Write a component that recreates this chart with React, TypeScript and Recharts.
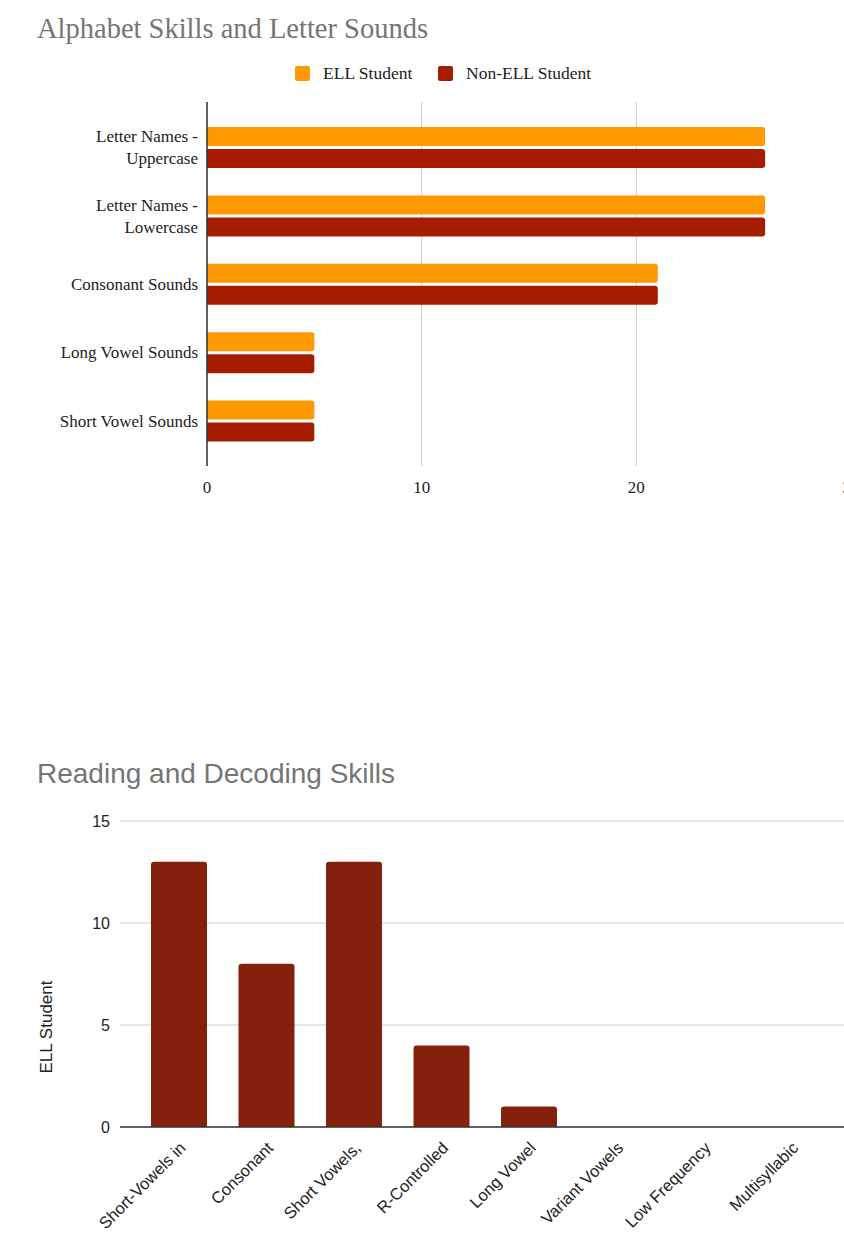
import React from 'react';
import { BarChart, Bar, XAxis, YAxis, CartesianGrid } from 'recharts';

// Alphabet chart
const alphabetSkills = [
  'Letter Names - Uppercase',
  'Letter Names - Lowercase',
  'Consonant Sounds',
  'Long Vowel Sounds',
  'Short Vowel Sounds',
];
const ellAlphabet = [26, 26, 21, 5, 5];
const nonEllAlphabet = [26, 26, 21, 5, 5];
const alphabetTicks = [0, 10, 20, 30];

// Decoding chart
const decodingSkills = [
  'Short-Vowels in',
  'Consonant',
  'Short Vowels,',
  'R-Controlled',
  'Long Vowel',
  'Variant Vowels',
  'Low Frequency',
  'Multisyllabic',
];
const ellDecoding = [13, 8, 13, 4, 1, 0, 0, 0];
const decodingTicks = [0, 5, 10, 15];

const SERIF = '"Liberation Serif", "DejaVu Serif", serif';
const SANS = '"Liberation Sans", Arial, sans-serif';

const ELL_COLOR = '#FF9900';
const NON_ELL_COLOR = '#A61C00';
const DECODING_COLOR = '#85200C';

const alphabetData = alphabetSkills.map((skill, i) => ({
  skill,
  ell: ellAlphabet[i],
  nonEll: nonEllAlphabet[i],
}));

const decodingData = decodingSkills.map((skill, i) => ({
  skill,
  ell: ellDecoding[i],
}));

const CategoryTick = ({ x, y, payload }: any) => {
  const label: string = payload.value;
  const lines = label.includes(' - ')
    ? [label.split(' - ')[0] + ' -', label.split(' - ')[1]]
    : [label];
  const start = -(lines.length - 1) * 11;
  return (
    <text x={x} y={y} textAnchor="end" fill="#222" fontSize={17} fontFamily={SERIF}>
      {lines.map((line, i) => (
        <tspan key={i} x={x} y={y + start + i * 22} dy="0.35em">
          {line}
        </tspan>
      ))}
    </text>
  );
};

const SlantTick = ({ x, y, payload }: any) => {
  const ax = x + 8;
  const ay = y + 14;
  return (
    <text
      x={ax}
      y={ay}
      textAnchor="end"
      fill="#222"
      fontSize={16.5}
      fontFamily={SANS}
      transform={`rotate(-45 ${ax} ${ay})`}
    >
      {payload.value}
    </text>
  );
};

const AxisTitle = () => (
  <text
    x={46}
    y={227}
    textAnchor="middle"
    dominantBaseline="central"
    fill="#222"
    fontSize={17}
    fontFamily={SANS}
    transform="rotate(-90 46 227)"
  >
    ELL Student
  </text>
);

export default function App() {
  return (
    <div
      style={{
        position: 'absolute',
        left: 0,
        top: 0,
        width: 844,
        height: 1234,
        overflow: 'hidden',
        background: '#fff',
      }}
    >
      <div
        style={{
          position: 'absolute',
          left: 37,
          top: 15,
          fontFamily: SERIF,
          fontSize: 28.5,
          lineHeight: '28px',
          color: '#757575',
          whiteSpace: 'nowrap',
        }}
      >
        Alphabet Skills and Letter Sounds
      </div>

      {/* legend */}
      <div style={{ position: 'absolute', left: 295, top: 66, width: 15, height: 15, background: ELL_COLOR, borderRadius: 2 }} />
      <div style={{ position: 'absolute', left: 323, top: 62, fontFamily: SERIF, fontSize: 17.5, lineHeight: '23px', color: '#222', whiteSpace: 'nowrap' }}>
        ELL Student
      </div>
      <div style={{ position: 'absolute', left: 438, top: 66, width: 15, height: 15, background: NON_ELL_COLOR, borderRadius: 2 }} />
      <div style={{ position: 'absolute', left: 466, top: 62, fontFamily: SERIF, fontSize: 17.5, lineHeight: '23px', color: '#222', whiteSpace: 'nowrap' }}>
        Non-ELL Student
      </div>

      <div style={{ position: 'absolute', left: 0, top: 0 }}>
        <BarChart
          layout="vertical"
          width={900}
          height={520}
          data={alphabetData}
          margin={{ top: 102, right: 49, left: 0, bottom: 24 }}
          barSize={19}
          barGap={3}
        >
          <CartesianGrid horizontal={false} stroke="#ccc" />
          <XAxis
            type="number"
            domain={[0, 30]}
            ticks={alphabetTicks}
            axisLine={false}
            tickLine={false}
            height={30}
            tickMargin={9}
            tick={{ fill: '#222', fontSize: 17, fontFamily: SERIF }}
          />
          <YAxis
            type="category"
            dataKey="skill"
            width={207}
            interval={0}
            axisLine={{ stroke: '#333', strokeWidth: 1.5 }}
            tickLine={false}
            tickMargin={3}
            tick={<CategoryTick />}
            padding={{ top: 11, bottom: 11 }}
          />
          <Bar dataKey="ell" name="ELL Student" fill={ELL_COLOR} radius={[0, 3, 3, 0]} isAnimationActive={false} />
          <Bar dataKey="nonEll" name="Non-ELL Student" fill={NON_ELL_COLOR} radius={[0, 3, 3, 0]} isAnimationActive={false} />
        </BarChart>
      </div>

      <div
        style={{
          position: 'absolute',
          left: 37,
          top: 760,
          fontFamily: SANS,
          fontSize: 28,
          lineHeight: '28px',
          color: '#757575',
          whiteSpace: 'nowrap',
        }}
      >
        Reading and Decoding Skills
      </div>

      <div style={{ position: 'absolute', left: 0, top: 800 }}>
        <BarChart
          width={850}
          height={434}
          data={decodingData}
          margin={{ top: 21, right: 0, left: 0, bottom: 7 }}
          barSize={56}
        >
          <CartesianGrid vertical={false} stroke="#ccc" />
          <XAxis
            dataKey="skill"
            interval={0}
            height={100}
            axisLine={{ stroke: '#333', strokeWidth: 1.5 }}
            tickLine={false}
            tick={<SlantTick />}
            padding={{ left: 15, right: 15 }}
          />
          <YAxis
            domain={[0, 15]}
            ticks={decodingTicks}
            width={120}
            axisLine={false}
            tickLine={false}
            tickMargin={4}
            tick={{ fill: '#222', fontSize: 16, fontFamily: SANS }}
            label={<AxisTitle />}
          />
          <Bar dataKey="ell" name="ELL Student" fill={DECODING_COLOR} radius={[3, 3, 0, 0]} isAnimationActive={false} />
        </BarChart>
      </div>
    </div>
  );
}
